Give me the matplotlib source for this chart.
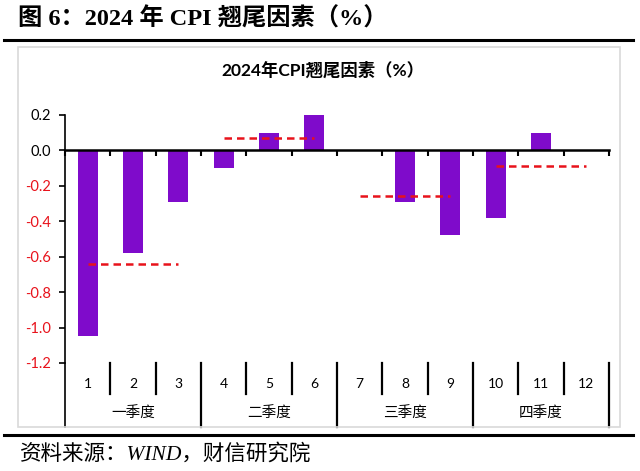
import matplotlib.pyplot as plt
import matplotlib.transforms as mtransforms
from matplotlib.patches import Rectangle
from matplotlib.lines import Line2D

plt.rcParams['font.family'] = ['Lato', 'Noto Sans CJK SC', 'DejaVu Sans']

months = ['1', '2', '3', '4', '5', '6', '7', '8', '9', '10', '11', '12']
values = [-1.05, -0.58, -0.29, -0.10, 0.10, 0.20, 0.0, -0.29, -0.48, -0.38, 0.10, 0.0]
quarters = ['一季度', '二季度', '三季度', '四季度']
quarter_avg = [-0.64, 0.07, -0.26, -0.09]
yticks = [0.2, 0.0, -0.2, -0.4, -0.6, -0.8, -1.0, -1.2]

bar_color = '#7F0BCB'
line_color = '#E8121B'

fig = plt.figure(figsize=(6.4, 4.71), dpi=100)

# header and footer
fig.text(18 / 640, 1 - 19 / 471, '图 6：2024 年 CPI 翘尾因素（%）', fontsize=17.5, fontweight='bold',
         family=['Liberation Serif', 'Noto Sans CJK SC'], va='center', ha='left')
fig.add_artist(Line2D([4 / 640, 633 / 640], [1 - 40 / 471, 1 - 40 / 471], color='black', lw=2.2))
fig.add_artist(Line2D([4 / 640, 633 / 640], [1 - 435 / 471, 1 - 435 / 471], color='black', lw=2.2))
fig.add_artist(Rectangle((18 / 640, 1 - 427 / 471), (620 - 18) / 640, (427 - 47) / 471,
                         transform=fig.transFigure, fill=False, edgecolor='#d9d9d9', lw=1.2))
fig.text(20 / 640, 1 - 454 / 471, '资料来源：WIND，财信研究院', fontsize=15.5, style='italic',
         family=['Liberation Serif', 'Noto Sans CJK SC'], va='center', ha='left')
fig.text(323 / 640, 1 - 70 / 471, '2024年CPI翘尾因素（%）', fontsize=12.5, fontweight='bold',
         va='center', ha='center')

ax = fig.add_axes([65 / 640, 1 - 363 / 471, (609 - 65) / 640, (363 - 115) / 471])
x = list(range(len(months)))
ax.bar(x, values, width=0.44, color=bar_color, zorder=2)

for q, avg in enumerate(quarter_avg):
    ax.plot([3 * q, 3 * q + 2], [avg, avg], color=line_color, lw=1.8, ls=(0, (3, 2)), zorder=3)

ax.set_xlim(-0.5, 11.5)
ax.set_ylim(-1.2, 0.2)
ax.set_yticks(yticks)
ax.set_yticklabels([f'{v:.1f}' for v in yticks], fontsize=10.5)
for lab, v in zip(ax.get_yticklabels(), yticks):
    lab.set_color(line_color if v < 0 else 'black')

for s in ['top', 'right']:
    ax.spines[s].set_visible(False)
ax.spines['bottom'].set_position(('data', 0))
ax.spines['bottom'].set_linewidth(1.8)
ax.spines['left'].set_linewidth(1.2)
ax.set_xticks([i - 0.5 for i in range(13)])
ax.set_xticklabels([])
ax.tick_params(axis='x', direction='out', length=4, width=1.5)
ax.tick_params(axis='y', direction='out', length=4, width=1.2, pad=6)

# two-level category axis
trans = mtransforms.blended_transform_factory(ax.transData, ax.transAxes)
ax.add_line(Line2D([-0.5, -0.5], [0, -0.26], transform=trans, color='black', lw=1.2, clip_on=False))
for i, m in enumerate(months):
    ax.text(i, -0.085, m, transform=trans, ha='center', va='center', fontsize=10)
for b in range(1, 13):
    bottom = -0.26 if b % 3 == 0 else -0.125
    ax.add_line(Line2D([b - 0.5, b - 0.5], [0, bottom], transform=trans, color='black',
                       lw=1.6, clip_on=False))
for q, name in enumerate(quarters):
    ax.text(3 * q + 1, -0.205, name, transform=trans, ha='center', va='center', fontsize=10.5)

fig.savefig('out.png', dpi=100)
